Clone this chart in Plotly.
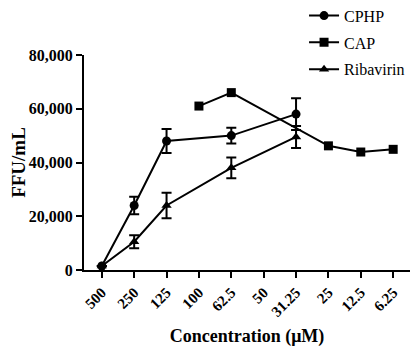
import plotly.graph_objects as go

categories = ["500", "250", "125", "100", "62.5", "50", "31.25", "25", "12.5", "6.25"]

cphp_values = [1500, 24000, 48000, None, 50000, None, 58000, None, None, None]
cphp_err = [0, 3300, 4500, 0, 2900, 0, 5900, 0, 0, 0]

cap_values = [None, None, None, 61000, 66000, None, None, 46200, 43900, 44900]

riba_values = [1500, 10500, 24000, None, 38000, None, 49500, None, None, None]
riba_err = [0, 2400, 4700, 0, 3900, 0, 4100, 0, 0, 0]

y_ticks = [0, 20000, 40000, 60000, 80000]
y_ticklabels = ["0", "20,000", "40,000", "60,000", "80,000"]

font_family = "Liberation Serif"

fig = go.Figure()


def add(name, vals, symbol, err=None, group="g"):
    xs = [c for c, v in zip(categories, vals) if v is not None]
    ys = [v for v in vals if v is not None]
    kw = {}
    if err is not None:
        es = [e for e, v in zip(err, vals) if v is not None]
        kw["error_y"] = dict(type="data", array=es, visible=True,
                             color="black", thickness=2, width=5)
    fig.add_trace(go.Scatter(
        x=xs, y=ys, name=name, mode="lines+markers",
        line=dict(color="black", width=2),
        marker=dict(symbol=symbol, size=9, color="black"),
        cliponaxis=False, legendgroup=group, **kw))


add("CPHP", cphp_values, "circle", cphp_err, "a")
add("CAP", cap_values, "square", None, "b")
add("Ribavirin", riba_values, "triangle-up", riba_err, "c")

# page body adds an 8px offset, so the figure is 411x345
fig.update_layout(
    width=411, height=345,
    margin=dict(l=76, r=9, t=47, b=83, autoexpand=False),
    paper_bgcolor="white", plot_bgcolor="white",
    font=dict(family=font_family, color="black"),
    showlegend=True,
    legend=dict(x=0.675, y=1.262,
                xanchor="left", yanchor="top",
                font=dict(size=16, family=font_family),
                tracegroupgap=3, bgcolor="rgba(0,0,0,0)"),
    xaxis=dict(
        type="category", categoryorder="array", categoryarray=categories,
        range=[-0.55, 9.52], automargin=False,
        showline=True, linecolor="black", linewidth=2,
        ticks="outside", ticklen=6, tickwidth=2, tickcolor="black",
        tickangle=-45, showgrid=False, zeroline=False,
        tickfont=dict(size=15, family=font_family, weight="bold"),
        title=dict(text="Concentration (μM)",
                   font=dict(size=18, family=font_family, weight="bold"), standoff=11),
    ),
    yaxis=dict(
        range=[0, 80000], tickvals=y_ticks, ticktext=y_ticklabels, automargin=False,
        showline=True, linecolor="black", linewidth=2,
        ticks="outside", ticklen=6, tickwidth=2, tickcolor="black",
        showgrid=False, zeroline=False,
        tickfont=dict(size=16, family=font_family, weight="bold"),
        title=dict(text="FFU/mL",
                   font=dict(size=19, family=font_family, weight="bold"), standoff=6),
    ),
)

fig.write_html("out.html")
